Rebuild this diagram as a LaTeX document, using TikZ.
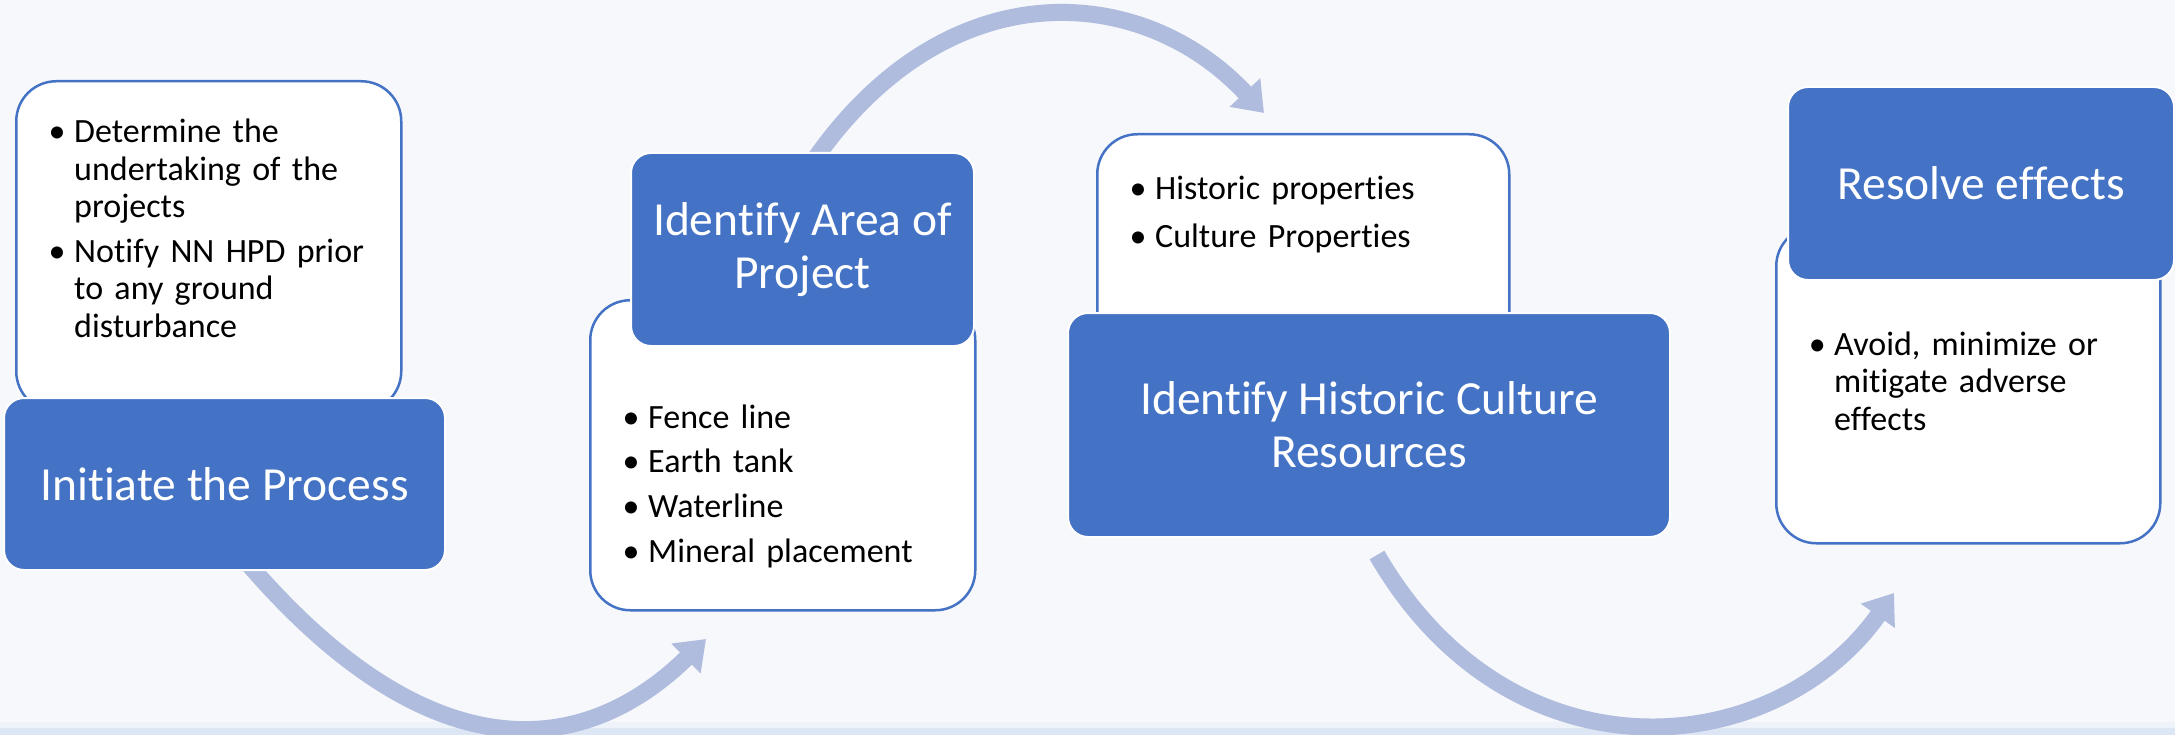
\documentclass[tikz,border=0pt]{standalone}
\usepackage{fontspec}
\setmainfont{Carlito}[Ligatures=CommonOff]
\usetikzlibrary{arrows.meta}

\definecolor{stepblue}{HTML}{4472C4}
\definecolor{flowarrow}{HTML}{AFBCDE}
\definecolor{pagebg}{HTML}{F7F8FC}
\definecolor{bandlight}{HTML}{EEF2F9}
\definecolor{banddark}{HTML}{DDE6F4}

% bullet list, argument = gap between items
\newenvironment{bullets}[1]{\begin{list}{\makebox[0pt][c]{\textbullet}}{%
    \setlength{\leftmargin}{34pt}\setlength{\labelwidth}{0pt}\setlength{\labelsep}{17pt}%
    \setlength{\itemsep}{#1}\setlength{\parsep}{0pt}%
    \setlength{\topsep}{0pt}\setlength{\partopsep}{0pt}}\raggedright}{\end{list}}

\tikzset{
  notebox/.style={draw=stepblue, line width=2.5pt, fill=white, rounded corners=40pt,
    anchor=north west, inner sep=0pt},
  stepbox/.style={draw=white, line width=2pt, fill=stepblue, rounded corners=20pt,
    anchor=north west, inner sep=0pt, text=white, align=center,
    font=\fontsize{47.5}{53}\selectfont},
  notes/.style={anchor=base west, inner sep=0pt, text width=360pt,
    font=\fontsize{34}{37.5}\selectfont},
  flow/.style={draw=flowarrow, line width=17pt, -{Triangle[width=40pt,length=28pt]}},
}

\begin{document}
\begin{tikzpicture}[x=1pt,y=-1pt]
        \useasboundingbox (0,0) rectangle (2175,735);
        \fill[pagebg] (0,0) rectangle (2175,735);
        \fill[bandlight] (0,722) rectangle (2175,728);
        \fill[banddark] (0,728) rectangle (2175,735);

        % arrows go under the boxes
        \coordinate (a1) at (812,163);
        \coordinate (a1end) at (1264,113);
        \coordinate (a2) at (245,560);
        \coordinate (a2end) at (706,639);
        \coordinate (a3) at (1377,555);
        \coordinate (a3end) at (1894,593);
        \draw[flow] (a1) .. controls (946,-32) and (1142,-18) .. (a1end);
        \draw[flow] (a2) .. controls (423,769) and (578,764) .. (a2end);
        \draw[flow] (a3) .. controls (1510,785) and (1773,763) .. (a3end);

        \node[notebox, minimum width=385pt, minimum height=330pt] (n1) at (15,80) {};
        \node[notes] (t1) at (40,105.5)
          {\begin{bullets}{7pt}
           \item Determine the\newline undertaking of the\newline projects
           \item Notify NN HPD prior\newline to any ground\newline disturbance
           \end{bullets}};
        \node[stepbox, minimum width=441pt, minimum height=172pt] (s1) at (3,397) {Initiate the Process};

        \node[notebox, minimum width=385pt, minimum height=310pt] (n2) at (589,299) {};
        \node[notes] (t2) at (614,390.5)
          {\begin{bullets}{7.2pt}
           \item Fence line
           \item Earth tank
           \item Waterline
           \item Mineral placement
           \end{bullets}};
        \node[stepbox, minimum width=343pt, minimum height=193pt] (s2) at (630,152) {Identify Area of\\Project};

        \node[notebox, minimum width=412pt, minimum height=227pt] (n3) at (1096,133) {};
        \node[notes] (t3) at (1121,162.5)
          {\begin{bullets}{10.5pt}
           \item Historic properties
           \item Culture Properties
           \end{bullets}};
        \node[stepbox, minimum width=602pt, minimum height=224pt] (s3) at (1067,312) {Identify Historic Culture\\Resources};

        \node[notebox, minimum width=384pt, minimum height=317pt] (n4) at (1775,225) {};
        \node[notes] (t4) at (1800,317.5)
          {\begin{bullets}{0pt}
           \item Avoid, minimize or\newline mitigate adverse\newline effects
           \end{bullets}};
        \node[stepbox, minimum width=386pt, minimum height=193pt] (s4) at (1787,86) {Resolve effects};
\end{tikzpicture}
\end{document}
